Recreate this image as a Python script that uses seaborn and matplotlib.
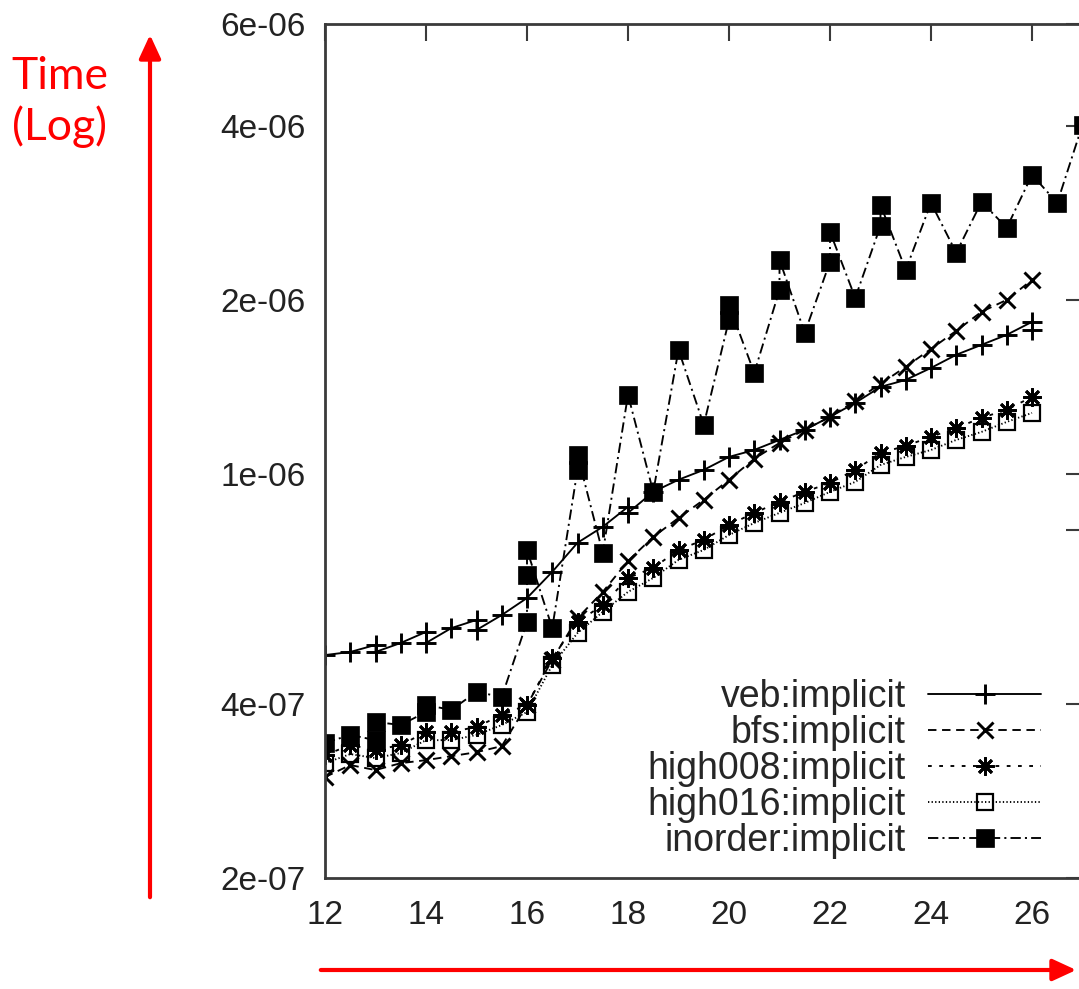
import matplotlib
matplotlib.use("Agg")
import matplotlib.pyplot as plt
import seaborn as sns
from matplotlib.patches import FancyArrowPatch, ArrowStyle
from matplotlib.ticker import FixedLocator, FixedFormatter, NullFormatter

# ---------------- data ----------------
veb_x = [12, 12.5, 13, 13, 13.5, 14, 14, 14.5, 15, 15, 15.5, 16, 16.5, 17, 17.5, 18, 18,
         18.5, 19, 19.5, 20, 20.5, 21, 21.5, 22, 22.5, 23, 23.5, 24, 24.5, 25, 25.5, 26, 26]
veb_y = [4.86e-7, 4.92e-7, 5.06e-7, 4.92e-7, 5.10e-7, 5.33e-7, 5.10e-7, 5.41e-7, 5.59e-7,
         5.37e-7, 5.70e-7, 6.10e-7, 6.77e-7, 7.60e-7, 8.10e-7, 8.77e-7, 8.56e-7, 9.31e-7,
         9.77e-7, 1.016e-6, 1.070e-6, 1.100e-6, 1.145e-6, 1.192e-6, 1.255e-6, 1.327e-6,
         1.414e-6, 1.454e-6, 1.525e-6, 1.607e-6, 1.672e-6, 1.740e-6, 1.832e-6, 1.775e-6]

grid_x = [12, 12.5, 13, 13.5, 14, 14.5, 15, 15.5, 16, 16.5, 17, 17.5, 18, 18.5, 19, 19.5,
          20, 20.5, 21, 21.5, 22, 22.5, 23, 23.5, 24, 24.5, 25, 25.5, 26]

bfs_y = [2.989e-7, 3.136e-7, 3.074e-7, 3.160e-7, 3.198e-7, 3.249e-7, 3.301e-7, 3.382e-7,
         3.984e-7, 4.77e-7, 5.63e-7, 6.25e-7, 7.07e-7, 7.78e-7, 8.39e-7, 9.02e-7, 9.77e-7,
         1.062e-6, 1.131e-6, 1.192e-6, 1.255e-6, 1.338e-6, 1.431e-6, 1.532e-6, 1.645e-6,
         1.768e-6, 1.907e-6, 2.000e-6, 2.166e-6]

high008_y = [3.263e-7, 3.396e-7, 3.329e-7, 3.396e-7, 3.578e-7, 3.578e-7, 3.650e-7, 3.829e-7,
             3.984e-7, 4.805e-7, 5.544e-7, 5.934e-7, 6.607e-7, 6.878e-7, 7.387e-7, 7.689e-7,
             8.162e-7, 8.562e-7, 8.943e-7, 9.310e-7, 9.647e-7, 1.016e-6, 1.087e-6, 1.118e-6,
             1.159e-6, 1.201e-6, 1.250e-6, 1.291e-6, 1.359e-6]

high016_y = [3.160e-7, 3.276e-7, 3.224e-7, 3.290e-7, 3.463e-7, 3.463e-7, 3.536e-7, 3.678e-7,
             3.874e-7, 4.670e-7, 5.306e-7, 5.772e-7, 6.250e-7, 6.607e-7, 7.100e-7, 7.387e-7,
             7.839e-7, 8.224e-7, 8.562e-7, 8.906e-7, 9.310e-7, 9.686e-7, 1.036e-6, 1.070e-6,
             1.100e-6, 1.145e-6, 1.182e-6, 1.230e-6, 1.275e-6]

inorder_x = [12, 12.5, 13, 13, 13.5, 14, 14, 14.5, 15, 15.5, 16, 16, 16, 16.5, 17, 17, 17.5,
             18, 18.5, 19, 19.5, 20, 20, 20.5, 21, 21, 21.5, 22, 22, 22.5, 23, 23, 23.5, 24,
             24.5, 25, 25.5, 26, 26.5, 27]
inorder_y = [3.425e-7, 3.536e-7, 3.463e-7, 3.724e-7, 3.678e-7, 3.874e-7, 3.984e-7, 3.906e-7,
             4.197e-7, 4.113e-7, 5.544e-7, 6.690e-7, 7.387e-7, 5.412e-7, 1.016e-6, 1.079e-6,
             7.300e-7, 1.370e-6, 9.310e-7, 1.639e-6, 1.216e-6, 1.847e-6, 1.960e-6, 1.495e-6,
             2.081e-6, 2.346e-6, 1.754e-6, 2.327e-6, 2.622e-6, 2.016e-6, 2.686e-6, 2.920e-6,
             2.253e-6, 2.943e-6, 2.412e-6, 2.955e-6, 2.665e-6, 3.290e-6, 2.943e-6, 4.017e-6]

labels = ["veb:implicit", "bfs:implicit", "high008:implicit", "high016:implicit",
          "inorder:implicit"]

x_ticks = [12, 14, 16, 18, 20, 22, 24, 26]
y_ticks = [2e-7, 4e-7, 1e-6, 2e-6, 4e-6, 6e-6]
y_tick_labels = ["2e-07", "4e-07", "1e-06", "2e-06", "4e-06", "6e-06"]
y_minor = [8e-7]

# ---------------- style ----------------
sns.set_style("white")
plt.rcParams["font.family"] = ["Liberation Sans", "DejaVu Sans"]

W, H = 1079, 989
fig = plt.figure(figsize=(W / 100, H / 100), dpi=100)
ax_left, ax_right, ax_top, ax_bot = 325, 1082.5, 24, 878
ax = fig.add_axes([ax_left / W, 1 - ax_bot / H, (ax_right - ax_left) / W, (ax_bot - ax_top) / H])

lw = 1.35
common = dict(ax=ax, color="black", estimator=None, sort=False, linewidth=lw,
              markeredgecolor="black")

sns.lineplot(x=veb_x, y=veb_y, marker="+", markersize=14, markeredgewidth=2.1,
             linestyle="-", label=labels[0], **common)
sns.lineplot(x=grid_x, y=bfs_y, marker="x", markersize=12, markeredgewidth=2.1,
             linestyle=(0, (4.5, 3)), label=labels[1], **common)
sns.lineplot(x=grid_x, y=high008_y, marker=(8, 2, 0), markersize=13, markeredgewidth=2.0,
             linestyle=(0, (2, 4)), label=labels[2], **common)
sns.lineplot(x=grid_x, y=high016_y, marker="s", markersize=11, markeredgewidth=1.6,
             markerfacecolor="none",
             linestyle=(0, (0.7, 1.2)), label=labels[3], **common)
sns.lineplot(x=inorder_x, y=inorder_y, marker="s", markersize=12.5, markeredgewidth=0.5,
             markerfacecolor="black",
             linestyle=(0, (5.5, 2.2, 1.1, 2.2)), label=labels[4], **common)

ax.set_yscale("log")
ax.set_xlim(12, 27)
ax.set_ylim(2e-7, 6e-6)
ax.xaxis.set_major_locator(FixedLocator(x_ticks))
ax.yaxis.set_major_locator(FixedLocator(y_ticks))
ax.yaxis.set_major_formatter(FixedFormatter(y_tick_labels))
ax.yaxis.set_minor_locator(FixedLocator(y_minor))
ax.yaxis.set_minor_formatter(NullFormatter())
ax.set_xlabel("")
ax.set_ylabel("")

spine_col = "#3a3a3a"
for s in ax.spines.values():
    s.set_color(spine_col)
    s.set_linewidth(2.0)
ax.tick_params(axis="both", which="both", direction="in", length=12, width=1.5,
               colors=spine_col, top=True, right=True, labelcolor="#222222", labelsize=24)
ax.tick_params(axis="y", which="both", pad=14)
ax.tick_params(axis="x", which="both", pad=16)

leg = ax.legend(loc="lower right", bbox_to_anchor=(0.945, 0.022), frameon=False,
                markerfirst=False, fontsize=27, handlelength=3.0, handletextpad=0.6,
                labelspacing=0.0, borderpad=0, borderaxespad=0)

# ---------------- red annotation arrows ----------------
style = ArrowStyle("-|>", head_length=0.65, head_width=0.3)
fig.add_artist(FancyArrowPatch((150 / W, 1 - 900 / H), (150 / W, 1 - 32 / H),
                               transform=fig.transFigure, arrowstyle=style,
                               mutation_scale=22, lw=3, color="red"))
fig.add_artist(FancyArrowPatch((318 / W, 1 - 970 / H), (1079 / W, 1 - 970 / H),
                               transform=fig.transFigure, arrowstyle=style,
                               mutation_scale=22, lw=3, color="red"))
fig.text(60 / W, 1 - 102 / H, "Time\n(Log)", ha="center", va="center", color="red",
         fontsize=32, family=["Lato", "DejaVu Sans"], linespacing=1.25)

fig.savefig("out.png", dpi=100)
